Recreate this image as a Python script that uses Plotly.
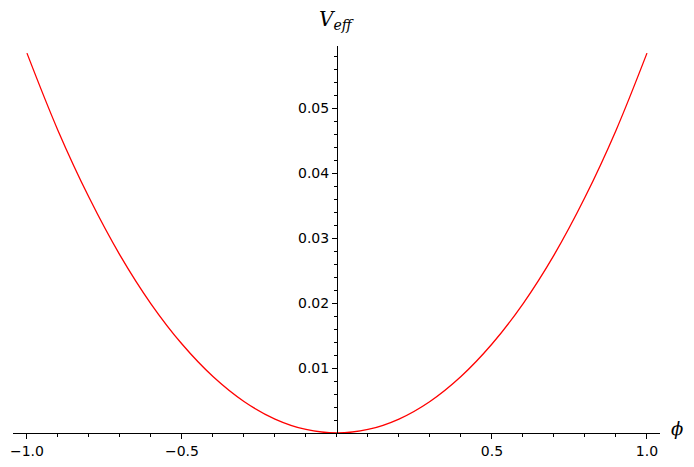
"""Effective potential V_eff(phi), Sage-style axes crossing at the origin."""

import plotly.graph_objects as go

# values
phi = [-1.0, -0.9, -0.8, -0.7, -0.6, -0.5, -0.4, -0.3, -0.2, -0.1, 0.0,
       0.1, 0.2, 0.3, 0.4, 0.5, 0.6, 0.7, 0.8, 0.9, 1.0]
v_eff = [0.0585, 0.0466, 0.0363, 0.0274, 0.0199, 0.0137, 0.0087, 0.00486, 0.00215, 0.00054, 0.0,
         0.00054, 0.00215, 0.00486, 0.0087, 0.0137, 0.0199, 0.0274, 0.0363, 0.0466, 0.0585]

x_tickvals = [-1.0, -0.5, 0.5, 1.0]
x_ticktext = ["\u22121.0", "\u22120.5", "0.5", "1.0"]
y_tickvals = [0.01, 0.02, 0.03, 0.04, 0.05]
y_ticktext = ["0.01", "0.02", "0.03", "0.04", "0.05"]

x_range = [-1.045, 1.042]
y_range = [0.0, 0.0596]

tick_font = dict(family="DejaVu Sans", size=14, color="black")
label_font = dict(family="DejaVu Serif", size=20, color="black")

fig = go.Figure(
    go.Scatter(
        x=phi,
        y=v_eff,
        mode="lines",
        line=dict(color="red", width=1.3, shape="spline"),
        hoverinfo="skip",
    )
)

axis_common = dict(
    showgrid=False,
    zeroline=False,
    showline=True,
    linecolor="black",
    linewidth=1,
    ticks="outside",
    ticklen=5,
    tickwidth=1,
    tickcolor="black",
    tickfont=tick_font,
    automargin=False,
)

# y axis sits on phi = 0, so place it as a free axis inside the plot area
y_pos = (0 - x_range[0]) / (x_range[1] - x_range[0])

# the page body keeps its default 8px margin, so the figure is 8px smaller
fig.update_layout(
    width=686,
    height=459,
    margin=dict(l=5, r=34, t=38, b=34),
    plot_bgcolor="white",
    paper_bgcolor="white",
    showlegend=False,
    xaxis=dict(
        range=x_range,
        tickmode="array",
        tickvals=x_tickvals,
        ticktext=x_ticktext,
        minor=dict(tickmode="linear", tick0=0, dtick=0.1, ticks="outside",
                   ticklen=3, tickwidth=1, tickcolor="black"),
        **axis_common,
    ),
    yaxis=dict(
        range=y_range,
        anchor="free",
        position=y_pos,
        tickmode="array",
        tickvals=y_tickvals,
        ticktext=y_ticktext,
        minor=dict(tickmode="linear", tick0=0, dtick=0.002, ticks="outside",
                   ticklen=3, tickwidth=1, tickcolor="black"),
        **axis_common,
    ),
    annotations=[
        dict(
            text="<i>V</i><sub><i>eff</i></sub>",
            xref="paper", yref="paper",
            x=y_pos, y=1.0,
            xanchor="center", yanchor="middle",
            yshift=26,
            showarrow=False,
            font=label_font,
        ),
        dict(
            text="<i>\u03d5</i>",
            xref="paper", yref="paper",
            x=1.0, y=0.0,
            xanchor="center", yanchor="middle",
            xshift=17, yshift=5,
            showarrow=False,
            font=dict(family="DejaVu Serif", size=18, color="black"),
        ),
    ],
)

fig.write_html("out.html")
